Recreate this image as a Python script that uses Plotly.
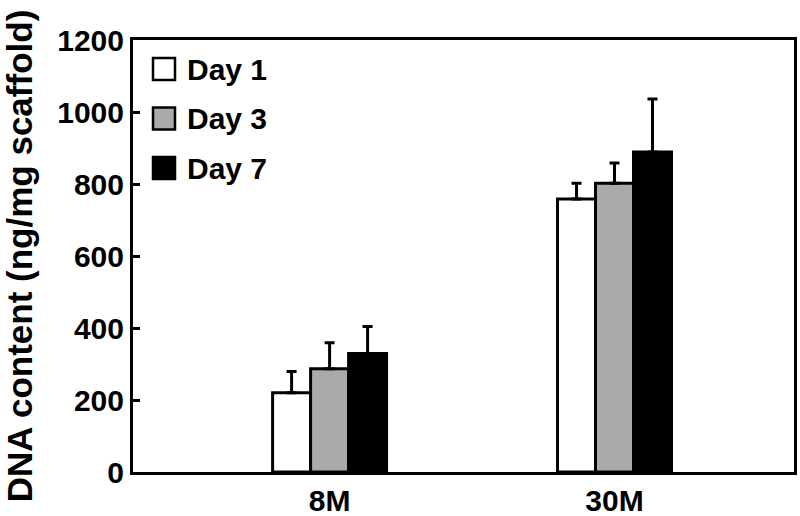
import plotly.graph_objects as go

# ── Data ──────────────────────────────────────────────────────────────────────
groups = ["8M", "30M"]
days = ["Day 1", "Day 3", "Day 7"]
day1 = [220, 758]
day3 = [287, 802]
day7 = [329, 889]
day1_sd = [59, 44]
day3_sd = [72, 56]
day7_sd = [75, 147]
y_ticks = [0, 200, 400, 600, 800, 1000, 1200]

FILLS = ["#FFFFFF", "#AAAAAA", "#000000"]
FONT = "Liberation Sans, Arial, sans-serif"

fig = go.Figure()
for name, vals, sd, fill in zip(days, [day1, day3, day7], [day1_sd, day3_sd, day7_sd], FILLS):
    fig.add_trace(go.Bar(
        x=groups, y=vals, name=name,
        marker=dict(color=fill, line=dict(color="black", width=3)),
        error_y=dict(type="data", array=sd, arrayminus=[0] * len(sd), symmetric=False,
                     color="black", thickness=3, width=5),
        showlegend=False,
    ))

# hand-drawn legend (large square swatches like the original)
for i, (name, fill) in enumerate(zip(days, FILLS)):
    yc = 69 + i * 49.5
    fig.add_shape(type="rect", xref="paper", yref="paper",
                  x0=(153 - 133) / 661, x1=(175 - 133) / 661,
                  y0=(472 - yc - 11) / 432, y1=(472 - yc + 11) / 432,
                  fillcolor=fill, line=dict(color="black", width=2.5))
    fig.add_annotation(xref="paper", yref="paper", x=(185 - 133) / 661, y=(472 - yc) / 432,
                       text=f"<b>{name}</b>", showarrow=False, xanchor="left", yanchor="middle",
                       font=dict(size=30, color="black", family=FONT))

fig.update_layout(
    width=800, height=516,
    paper_bgcolor="white", plot_bgcolor="white",
    margin=dict(l=133, r=6, t=40, b=44),
    barmode="group", bargap=0.6, bargroupgap=0,
    font=dict(family=FONT, color="black", size=30),
    xaxis=dict(
        range=[-0.69, 1.63], showline=True, linecolor="black", linewidth=3, mirror=True,
        ticks="", showgrid=False, tickfont=dict(size=30), automargin=False,
        tickvals=[0, 1], ticktext=[f"<b>{g}</b>" for g in groups],
    ),
    yaxis=dict(
        range=[0, 1200], showline=True, linecolor="black", linewidth=3, mirror=True,
        ticks="inside", ticklen=7, tickwidth=3, tickcolor="black", showgrid=False, zeroline=False,
        tickvals=y_ticks, ticktext=[f"<b>{t}</b>" for t in y_ticks], tickfont=dict(size=30),
        automargin=False,
        title=dict(text="<b>DNA content (ng/mg scaffold)</b>", font=dict(size=35), standoff=22),
    ),
)

fig.write_html("out.html", config={"displayModeBar": False},
               post_script="document.body.style.margin='0';")
